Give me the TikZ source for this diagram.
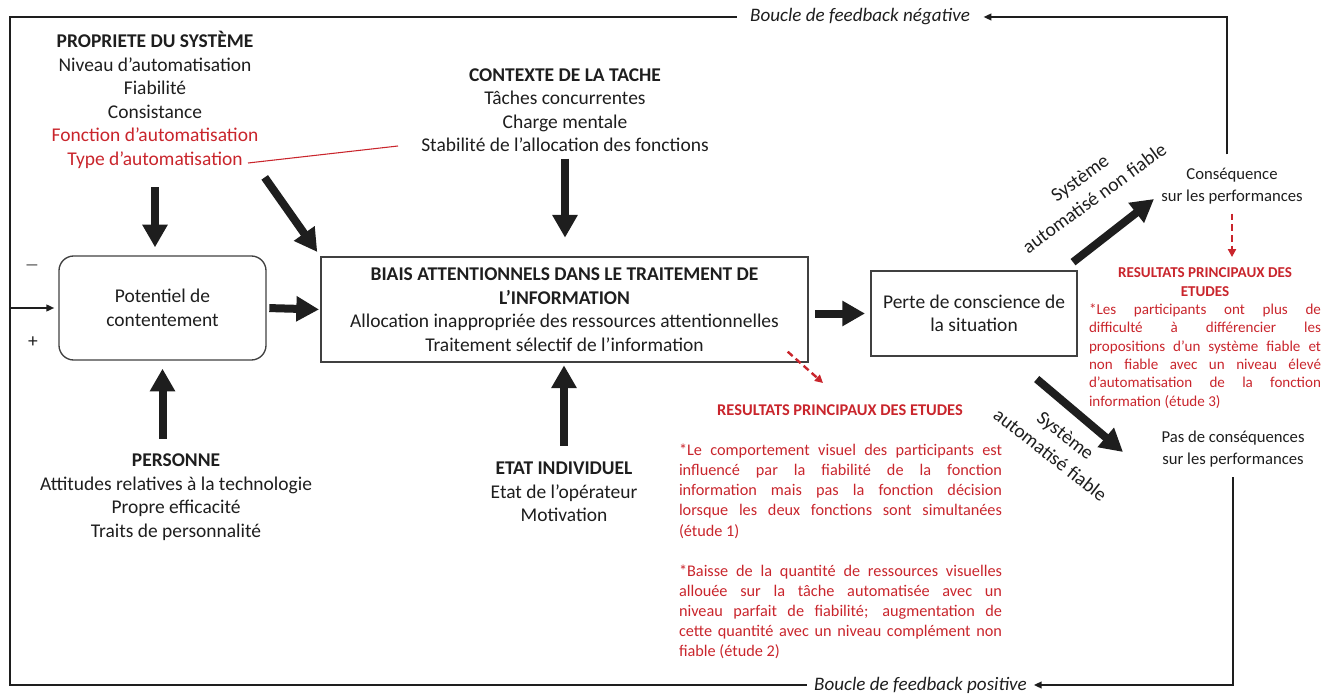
\documentclass[tikz,border=0pt]{standalone}
\usepackage{fontspec}
\setmainfont{Carlito}
\usetikzlibrary{arrows.meta}
\definecolor{resred}{HTML}{C9252C}
\definecolor{inkdark}{HTML}{1E1E1E}
\tikzset{
  maintxt/.style={align=center, inner sep=0pt, text=inkdark,
                  font=\fontsize{14.6}{17.6}\selectfont},
  smalltxt/.style={align=center, inner sep=0pt, text=inkdark,
                   font=\fontsize{12.5}{16.5}\selectfont},
  boxnode/.style={maintxt, draw=black!75, line width=1pt},
  roundnode/.style={boxnode, rounded corners=11pt},
  looptxt/.style={inner xsep=5pt, inner ysep=0pt, text=inkdark,
                  font=\fontsize{14.3}{17}\selectfont\itshape},
  restitle/.style={align=center, inner sep=0pt, text=resred,
                   font=\fontsize{12.3}{14.3}\selectfont\bfseries},
  respara/.style={align=justify, inner sep=0pt, text=resred,
                  font=\fontsize{12.2}{15.1}\selectfont},
  bigarrow/.style={draw=inkdark, line width=6pt,
                   -{Triangle[width=18pt,length=17pt]}},
  loopline/.style={draw=inkdark, line width=1.6pt},
  looparrow/.style={loopline, -{Triangle[width=5pt,length=6pt]}},
  resarrow/.style={draw=resred, line width=1.8pt, dash pattern=on 5pt off 3pt,
                   -{Triangle[width=6pt,length=6pt]}},
}

\begin{document}
\begin{tikzpicture}[x=0.75pt, y=-0.75pt]
  \useasboundingbox (0,0) rectangle (1337,695);

  % influencing factors
  \node[maintxt] (propriete) at (155,100) {\textbf{PROPRIETE DU SYSTÈME}\\Niveau d’automatisation\\Fiabilité\\Consistance\\
    \textcolor{resred}{Fonction d’automatisation}\\\textcolor{resred}{Type d’automatisation}};
  \node[maintxt] (contexte) at (565,110) {\textbf{CONTEXTE DE LA TACHE}\\Tâches concurrentes\\Charge mentale\\Stabilité de l’allocation des fonctions};
  \node[maintxt] (personne) at (176,497) {\textbf{PERSONNE}\\Attitudes relatives à la technologie\\Propre efficacité\\Traits de personnalité};
  \node[maintxt] (etat) at (564,492) {\textbf{ETAT INDIVIDUEL}\\Etat de l’opérateur\\Motivation};

  % main boxes
  \node[roundnode, minimum width=155.25pt, minimum height=78pt] (potentiel) at (162.5,308) {Potentiel de\\contentement};
  \node[boxnode, minimum width=365.25pt, minimum height=78.75pt] (biais) at (564.5,309.5)
    {\textbf{BIAIS ATTENTIONNELS DANS LE TRAITEMENT DE}\\\textbf{L’INFORMATION}\\Allocation inappropriée des ressources attentionnelles\\Traitement sélectif de l’information};
  \node[boxnode, minimum width=154.5pt, minimum height=63.75pt] (perte) at (974,313.5) {Perte de conscience de\\la situation};

  % outcomes
  \node[smalltxt] (conseq) at (1232,186) {Conséquence\\sur les performances};
  \node[smalltxt] (pasconseq) at (1233,449.5) {Pas de conséquences\\sur les performances};
  \node[maintxt, rotate=36, font=\fontsize{14.6}{18.5}\selectfont] (labnonfiable) at (1087,188) {Système\\automatisé non fiable};
  \node[maintxt, rotate=-38, font=\fontsize{14.6}{18.5}\selectfont] (labfiable) at (1058,445) {Système\\automatisé fiable};

  % study results
  \node[restitle] (resmidtitle) at (840,410) {RESULTATS PRINCIPAUX DES ETUDES};
  \node[respara, text width=242.25pt] (resmidtext) at (840.5,551.5) {*Le comportement visuel des participants est\linebreak
    influencé par la fiabilité de la fonction\linebreak information mais pas la fonction décision\linebreak
    lorsque les deux fonctions sont simultanées\linebreak (étude 1)\par\vspace{15.1pt}
    *Baisse de la quantité de ressources visuelles\linebreak allouée sur la tâche automatisée avec un\linebreak
    niveau parfait de fiabilité; augmentation de\linebreak cette quantité avec un niveau complément non\linebreak fiable (étude 2)};
  \node[restitle, font=\fontsize{11.3}{14.25}\selectfont\bfseries] (resrighttitle) at (1205,282.5) {RESULTATS PRINCIPAUX DES\\ETUDES};
  \node[respara, text width=174pt, font=\fontsize{11.3}{13.8}\selectfont] (resrighttext) at (1205,356) {*Les participants ont plus de\linebreak
    difficulté à différencier les\linebreak propositions d’un système fiable et\linebreak non fiable avec un niveau élevé\linebreak
    d’automatisation de la fonction\linebreak information (étude 3)};

  % feedback loops
  \node[looptxt] (negloop) at (860,17) {Boucle de feedback négative};
  \node[looptxt] (posloop) at (920.5,685) {Boucle de feedback positive};
  \node[maintxt, font=\fontsize{11}{13}\selectfont] (minus) at (32,267) {—};
  \node[maintxt] (plus) at (33,342) {+};
  \coordinate (topleft) at (10,17);
  \coordinate (botleft) at (10,685);
  \coordinate (topright) at (1227,17);
  \coordinate (botright) at (1233,685);
  \coordinate (entry) at (10,308);
  \coordinate (nonfiabletip) at (1154,199);
  \coordinate (fiabletip) at (1123,452);
  \coordinate (resmidtip) at (823,383);
  \coordinate (typeend) at (248,163);
  \coordinate (stabstart) at (398,146);

  \draw[loopline, shorten <=5pt] (negloop.west) -- (topleft) -- (botleft) -- (posloop.west);
  \draw[looparrow, shorten <=10pt, shorten >=5pt] (conseq.north -| topright) -- (topright) -- (negloop.east);
  \draw[looparrow, shorten <=7pt] (pasconseq.south -| botright) -- (botright) -- (posloop.east);
  \draw[looparrow, shorten >=3pt] (entry) -- (potentiel.west);

  % block arrows
  \draw[bigarrow, shorten <=14pt, shorten >=6pt] (propriete.south) -- (propriete.south |- potentiel.north);
  \draw[bigarrow, shorten <=8pt, shorten >=4pt] (propriete.south east) -- (biais.north west);
  \draw[bigarrow, shorten <=5pt, shorten >=14pt] (contexte.south) -- (contexte.south |- biais.north);
  \draw[bigarrow, shorten <=2pt, shorten >=1pt] (potentiel.east) -- (biais.west);
  \draw[bigarrow, shorten <=11pt, shorten >=6pt] (personne.north -| potentiel.south) -- (potentiel.south);
  \draw[bigarrow, shorten <=12pt, shorten >=2pt] (etat.north) -- (etat.north |- biais.south);
  \draw[bigarrow, shorten <=5pt, shorten >=4pt] (biais.east |- perte.west) -- (perte.west);
  \draw[bigarrow, shorten <=10pt] (perte.26) -- (nonfiabletip);
  \draw[bigarrow, shorten <=26pt] (perte.-50) -- (fiabletip);

  % links to results
  \draw[resred, line width=0.8pt] (typeend) -- (stabstart);
  \draw[resarrow] ([shift={(-21,-11)}]biais.south east) -- (resmidtip);
  \draw[resarrow, shorten <=7pt, shorten >=8pt] (conseq.south) -- (conseq.south |- resrighttitle.north);
\end{tikzpicture}
\end{document}
